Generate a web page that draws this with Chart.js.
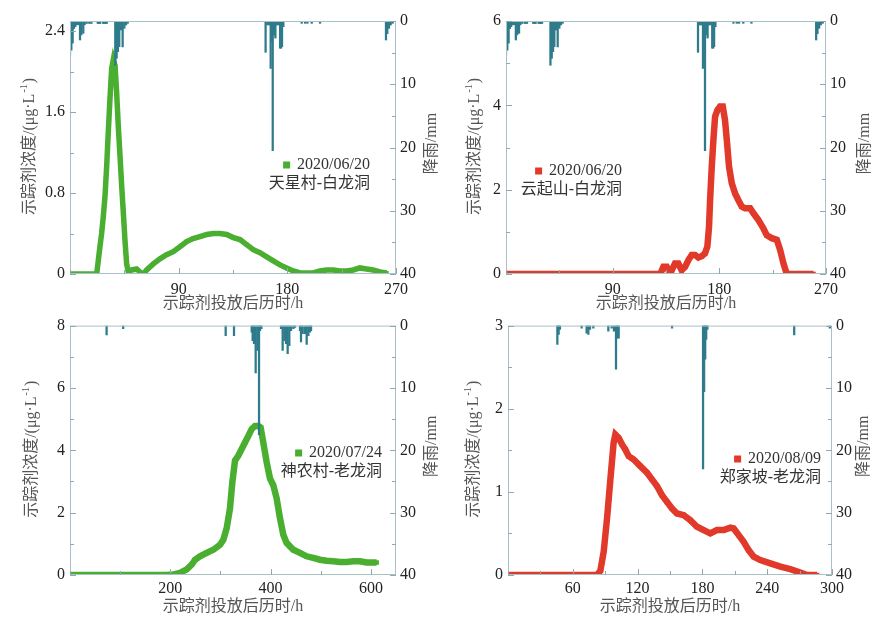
<!DOCTYPE html>
<html>
<head>
<meta charset="utf-8">
<script src="https://cdn.jsdelivr.net/npm/chart.js@4.4.1/dist/chart.umd.min.js"></script>
<style>
  body { margin: 0; background: #fff; }
  #wrap { position: relative; width: 894px; height: 622px; }
  canvas { position: absolute; }
</style>
</head>
<body>
<div id="wrap">
  <canvas id="c1" width="447" height="311" style="left:0;top:0"></canvas>
  <canvas id="c2" width="447" height="311" style="left:447px;top:0"></canvas>
  <canvas id="c3" width="447" height="311" style="left:0;top:311px"></canvas>
  <canvas id="c4" width="447" height="311" style="left:447px;top:311px"></canvas>
</div>
<script>
// 降雨 (mm), 2020/06/20 场次 (上面两幅共用)
const rainJuneT = [0, 1.1, 2.2, 3.3, 4.4, 5.8, 7.2, 8.3, 9.4, 11, 12.1, 13.8, 16, 17.7, 23, 24, 25, 27.5, 28.5, 29.5, 30.4,
  37.5, 38.6, 39.7, 40.8, 42.2, 43.6, 45, 46.4, 47.8,
  162, 163.5, 165, 166.2, 167.3, 167.9, 169, 170.1, 171.2, 172.6, 174, 174.8, 175.6, 176.7,
  191.9, 194.7, 196.6, 200.2, 207.1, 261.7, 262.8, 264.2, 265.6, 267.2];
const rainJuneMm = [5.4, 4.6, 3.5, 1.2, 0.9, 0.6, 0.6, 3.0, 2.2, 1.95, 0.6, 0.4, 0.4, 0.4, 0.4, 0.4, 0.4, 0.4, 0.4, 0.4, 0.4,
  7.0, 5.9, 4.85, 4.06, 1.42, 4.1, 1.16, 0.63, 0.37,
  4.95, 0.63, 0.63, 7.5, 3.3, 20.5, 2.2, 2.7, 0.63, 0.63, 4.3, 4.3, 4.06, 0.9,
  0.37, 0.37, 0.37, 0.37, 0.37, 3.0, 2.0, 1.16, 0.63, 0.37];

// 降雨 (mm), 2020/07/24 场次
const rainJulyT = [73, 106, 310.4, 327, 362.3, 364.2, 366.9, 370.2, 373.5, 376.9, 378.9, 381.6,
  420.7, 424, 427.4, 430.7, 434, 437.3, 440.7, 445.4, 448.7,
  458.6, 460.6, 464, 468.6, 471.9, 475.3, 478.6, 480.6];
const rainJulyMm = [1.5, 0.5, 1.6, 1.6, 1.06, 2.4, 2.9, 7.6, 4.0, 17.5, 0.8, 0.5,
  0.5, 4.0, 2.4, 2.9, 4.5, 3.2, 0.8, 0.5, 0.3,
  0.8, 2.6, 1.3, 1.3, 3.0, 1.6, 1.06, 0.8];

// 降雨 (mm), 2020/08/09 场次
const rainAugT = [45.7, 46.9, 48.1, 68.2, 72.8, 74.4, 75.9, 79, 92.9, 96, 98.1, 100, 101.2, 102.5,
  151.9, 180.6, 181.6, 182.6, 183.5, 184.6, 265, 298];
const rainAugMm = [3.0, 1.4, 0.6, 0.4, 1.2, 1.4, 0.6, 0.4, 0.9, 0.4, 0.9, 7.0, 2.0, 2.0,
  0.4, 23, 10.6, 5.4, 2.2, 0.6, 1.5, 0.4];

// 示踪剂浓度 (μg/L)
const tianxingT = [0, 22.1, 23.5, 24.8, 26.2, 27.6, 29.0, 30.4, 31.7, 33.1, 34.5, 35.9,
  37.3, 38.6, 40.0, 41.4, 42.8, 44.2, 45.5, 46.9, 48.3, 51.1, 55.2, 58, 60.7, 63.5, 69, 74.5, 80, 85.5,
  91.1, 96.6, 102, 107.6, 113.2, 118.7, 124.2, 129.7, 135.3, 140.8, 146.3, 151.8, 157.3, 162.9, 168.4,
  173.9, 179.4, 184.9, 190.5, 196, 201.5, 207, 212.6, 218, 223.6, 229, 234.6, 240, 245.6, 251, 256.7, 262.3];
const tianxingC = [0, 0, 0.14, 0.27, 0.40, 0.57, 0.77, 1.07, 1.40, 1.73, 2.03, 2.12,
  2.06, 1.80, 1.46, 1.17, 0.87, 0.60, 0.34, 0.10, 0.02, 0.04, 0.05, 0.02, 0, 0.04, 0.10, 0.15, 0.19, 0.22,
  0.27, 0.32, 0.35, 0.37, 0.39, 0.40, 0.40, 0.39, 0.36, 0.34, 0.29, 0.24, 0.21, 0.17, 0.13,
  0.09, 0.06, 0.03, 0.01, 0.01, 0.01, 0.03, 0.04, 0.04, 0.03, 0.03, 0.04, 0.06, 0.05, 0.04, 0.02, 0.01];

const yunqiT = [0, 130.1, 132.8, 135.6, 138.4, 142.6, 145.4, 148.2, 151.1, 153.9, 156.7, 159.5, 162.3, 165.1,
  167.9, 169.9, 171.3, 172.2, 173.6, 175.0, 176.4, 178.4, 180.6, 182.9, 184.8, 186.3, 188.2, 190.5,
  193.3, 196.1, 198.9, 201.7, 206.0, 208.8, 213.0, 217.2, 220.0, 224.3, 228.5, 231.3, 234.1, 236.9, 259.4];
const yunqiC = [0, 0, 0.17, 0.17, 0, 0.25, 0.25, 0.09, 0.17, 0.33, 0.45, 0.45, 0.39, 0.42,
  0.49, 0.65, 1.12, 1.75, 2.54, 3.18, 3.73, 3.89, 3.97, 3.97, 3.65, 3.18, 2.54, 2.15,
  1.91, 1.75, 1.60, 1.56, 1.56, 1.44, 1.28, 1.08, 0.92, 0.85, 0.81, 0.57, 0.25, 0, 0];

const shennongT = [0, 192.8, 206.1, 219.4, 232.7, 242.6, 249.3, 259.2, 272.5, 285.8, 299.1, 305.7, 312.4,
  319.0, 323.7, 329.0, 335.6, 342.3, 348.9, 355.5, 362.2, 368.8, 375.4, 380.1, 385.4, 392.0, 398.7,
  405.3, 412.0, 418.6, 425.3, 431.9, 445.2, 458.5, 471.8, 485.1, 498.4, 511.7, 525.0, 538.2, 551.5,
  564.8, 578.1, 591.4, 611.4];
const shennongC = [0, 0, 0.02, 0.07, 0.18, 0.33, 0.49, 0.60, 0.71, 0.81, 0.97, 1.13, 1.50,
  2.14, 2.98, 3.67, 3.83, 4.04, 4.25, 4.46, 4.68, 4.78, 4.78, 4.73, 4.25, 3.63, 3.10,
  2.88, 2.46, 1.83, 1.29, 1.03, 0.81, 0.71, 0.60, 0.55, 0.49, 0.46, 0.44, 0.42, 0.42,
  0.44, 0.44, 0.40, 0.40];

const zhengjiaT = [0, 82.4, 85.5, 88.6, 91.7, 94.8, 97.8, 99.4, 102.5, 105.6, 108.6, 111.7, 116.4, 122.5,
  128.7, 133.3, 137.9, 142.6, 147.2, 151.9, 156.5, 162.7, 168.8, 175.0, 181.2, 187.3, 193.5, 199.7,
  205.9, 209.0, 213.6, 218.2, 222.8, 227.5, 233.6, 242.9, 252.2, 261.4, 270.7, 276.9, 286.1];
const zhengjiaC = [0, 0, 0.05, 0.28, 0.68, 1.15, 1.59, 1.69, 1.65, 1.57, 1.51, 1.43, 1.39, 1.31,
  1.23, 1.15, 1.07, 0.96, 0.88, 0.80, 0.74, 0.72, 0.66, 0.58, 0.54, 0.50, 0.54, 0.54,
  0.57, 0.56, 0.48, 0.40, 0.30, 0.22, 0.18, 0.14, 0.10, 0.07, 0.03, 0, 0];

// 刻度
const xTicksJune = [90, 180, 270];
const xTicksJuly = [200, 400, 600];
const xTicksAug = [60, 120, 180, 240, 300];
const yTicksTianxing = [0, 0.8, 1.6, 2.4];
const yTicksYunqi = [0, 2, 4, 6];
const yTicksShennong = [0, 2, 4, 6, 8];
const yTicksZhengjia = [0, 1, 2, 3];
const rainTicks = [0, 10, 20, 30, 40];

const GREEN = '#4aae30';
const RED = '#e1392a';
const RAIN = '#2e7b8c';
const FRAME = '#a9c2c8';
const FONT = '"Liberation Serif", "Noto Sans CJK SC", serif';

// majors plus half-step minors, from 0 up to the top
function withMinors(majors, max) {
  const half = (majors[1] - majors[0]) / 2;
  const out = [];
  for (let k = 0; k * half <= max + 1e-9; k++) out.push(Math.round(k * half * 1000) / 1000);
  return out;
}
const isMajor = (majors, v) => majors.some(m => Math.abs(m - v) < 1e-6);

const decor = {
  id: 'decor',
  afterDraw(chart, args, o) {
    const ctx = chart.ctx;
    const a = chart.chartArea;
    ctx.save();
    // frame
    ctx.strokeStyle = FRAME;
    ctx.lineWidth = 1;
    ctx.strokeRect(a.left + 0.5, a.top + 0.5, a.right - a.left - 1, a.bottom - a.top - 1);
    // inward ticks
    ctx.strokeStyle = '#8fa9ae';
    ctx.beginPath();
    const sx = chart.scales.x, sy = chart.scales.y, sr = chart.scales.yR;
    sx.ticks.forEach(t => {
      const px = Math.round(sx.getPixelForValue(t.value)) + 0.5;
      const len = isMajor(o.xMajor, t.value) ? 6 : 4;
      ctx.moveTo(px, a.bottom); ctx.lineTo(px, a.bottom - len);
    });
    sy.ticks.forEach(t => {
      const py = Math.round(sy.getPixelForValue(t.value)) + 0.5;
      const len = isMajor(o.yMajor, t.value) ? 6 : 4;
      ctx.moveTo(a.left, py); ctx.lineTo(a.left + len, py);
    });
    sr.ticks.forEach(t => {
      const py = Math.round(sr.getPixelForValue(t.value)) + 0.5;
      const len = isMajor(rainTicks, t.value) ? 6 : 4;
      ctx.moveTo(a.right, py); ctx.lineTo(a.right - len, py);
    });
    ctx.stroke();

    // axis titles
    ctx.fillStyle = '#555';
    ctx.textBaseline = 'middle';
    ctx.textAlign = 'center';
    ctx.font = '16px ' + FONT;
    ctx.fillText('示踪剂投放后历时/h', (a.left + a.right) / 2, a.bottom + o.xTitleDy);

    ctx.save();
    ctx.translate(o.leftTitleX, (a.top + a.bottom) / 2);
    ctx.rotate(-Math.PI / 2);
    ctx.textAlign = 'left';
    const p1 = '示踪剂浓度/(μg·L', p2 = '-1', p3 = ')';
    ctx.font = '16px ' + FONT;
    const w1 = ctx.measureText(p1).width, w3 = ctx.measureText(p3).width;
    ctx.font = '10px ' + FONT;
    const w2 = ctx.measureText(p2).width;
    let x0 = -(w1 + w2 + w3) / 2;
    ctx.font = '16px ' + FONT;
    ctx.fillText(p1, x0, 0);
    ctx.font = '10px ' + FONT;
    ctx.fillText(p2, x0 + w1 + 1, -6);
    ctx.font = '16px ' + FONT;
    ctx.fillText(p3, x0 + w1 + w2 + 2, 0);
    ctx.restore();

    ctx.save();
    ctx.translate(a.right + o.rightTitleDx, (a.top + a.bottom) / 2 - 4);
    ctx.rotate(-Math.PI / 2);
    ctx.textAlign = 'center';
    ctx.font = '16px ' + FONT;
    ctx.fillText('降雨/mm', 0, 0);
    ctx.restore();

    // legend
    ctx.fillStyle = '#333';
    ctx.textAlign = 'right';
    ctx.font = '16px ' + FONT;
    ctx.fillText(o.date, o.legendRight, o.legendY);
    const wd = ctx.measureText(o.date).width;
    ctx.fillStyle = o.color;
    ctx.fillRect(o.legendRight - wd - 14, o.legendY - 3.5, 7, 7);
    ctx.fillStyle = '#333';
    ctx.fillText(o.site, o.legendRight, o.legendY + 19);
    ctx.restore();
  }
};

function makePanel(id, p) {
  const tickFont = { family: FONT, size: 16 };
  return new Chart(document.getElementById(id), {
    type: 'line',
    data: {
      datasets: [
        {
          type: 'bar',
          yAxisID: 'yR',
          data: p.rainT.map((t, i) => ({ x: t, y: p.rainMm[i] })),
          backgroundColor: RAIN,
          barThickness: 1.6,
          order: 0
        },
        {
          type: 'line',
          yAxisID: 'y',
          data: p.t.map((t, i) => ({ x: t, y: p.c[i] })),
          borderColor: p.color,
          backgroundColor: p.color,
          borderWidth: p.lw,
          pointStyle: 'rect',
          pointRadius: p.lw / 2,
          pointBorderWidth: 0,
          tension: 0,
          order: 1
        }
      ]
    },
    options: {
      responsive: false,
      animation: false,
      events: [],
      layout: { padding: { top: p.top, left: 0, right: 0, bottom: 0 } },
      plugins: {
        legend: { display: false },
        tooltip: { enabled: false },
        decor: {
          xMajor: p.xMajor, yMajor: p.yMajor, date: p.date, site: p.site, color: p.color,
          legendRight: p.legendRight, legendY: p.legendY,
          leftTitleX: p.leftTitleX, rightTitleDx: p.rightTitleDx, xTitleDy: p.xTitleDy
        }
      },
      scales: {
        x: {
          type: 'linear', min: 0, max: p.xMax, offset: false,
          grid: { display: false, drawTicks: false }, border: { display: false },
          afterBuildTicks: s => { s.ticks = withMinors(p.xMajor, p.xMax).map(v => ({ value: v })); },
          afterFit: s => { s.height = p.xAxisH; },
          ticks: {
            autoSkip: false, maxRotation: 0, padding: p.xPad, color: '#222', font: tickFont,
            callback: v => isMajor(p.xMajor, v) ? String(v) : ''
          }
        },
        y: {
          position: 'left', min: 0, max: p.yMax,
          grid: { display: false, drawTicks: false }, border: { display: false },
          afterBuildTicks: s => { s.ticks = withMinors(p.yMajor, p.yMax).map(v => ({ value: v })); },
          afterFit: s => { s.width = p.leftW; },
          ticks: {
            autoSkip: false, padding: 5, color: '#222', font: tickFont,
            callback: v => isMajor(p.yMajor, v) ? String(v) : ''
          }
        },
        yR: {
          position: 'right', min: 0, max: 40, reverse: true,
          grid: { display: false, drawTicks: false }, border: { display: false },
          afterBuildTicks: s => { s.ticks = withMinors(rainTicks, 40).map(v => ({ value: v })); },
          afterFit: s => { s.width = p.rightW; },
          ticks: {
            autoSkip: false, padding: 4, color: '#222', font: tickFont,
            callback: v => isMajor(rainTicks, v) ? String(v) : ''
          }
        }
      }
    },
    plugins: [decor]
  });
}

makePanel('c1', {
  t: tianxingT, c: tianxingC, rainT: rainJuneT, rainMm: rainJuneMm, color: GREEN, lw: 5.5,
  xMax: 270, xMajor: xTicksJune, yMax: 2.5, yMajor: yTicksTianxing,
  top: 21, leftW: 70, rightW: 51, xAxisH: 37, xPad: 6, xTitleDy: 30,
  leftTitleX: 30, rightTitleDx: 36,
  date: '2020/06/20', site: '天星村-白龙洞', legendRight: 370, legendY: 165
});
makePanel('c2', {
  t: yunqiT, c: yunqiC, rainT: rainJuneT, rainMm: rainJuneMm, color: RED, lw: 6.5,
  xMax: 270, xMajor: xTicksJune, yMax: 6, yMajor: yTicksYunqi,
  top: 21, leftW: 59, rightW: 68, xAxisH: 37, xPad: 6, xTitleDy: 30,
  leftTitleX: 28, rightTitleDx: 39,
  date: '2020/06/20', site: '云起山-白龙洞', legendRight: 175, legendY: 171
});
makePanel('c3', {
  t: shennongT, c: shennongC, rainT: rainJulyT, rainMm: rainJulyMm, color: GREEN, lw: 6.5,
  xMax: 650, xMajor: xTicksJuly, yMax: 8, yMajor: yTicksShennong,
  top: 12, leftW: 70, rightW: 51, xAxisH: 47, xPad: 4, xTitleDy: 32,
  leftTitleX: 32, rightTitleDx: 36,
  date: '2020/07/24', site: '神农村-老龙洞', legendRight: 382, legendY: 142
});
makePanel('c4', {
  t: zhengjiaT, c: zhengjiaC, rainT: rainAugT, rainMm: rainAugMm, color: RED, lw: 6.5,
  xMax: 300, xMajor: xTicksAug, yMax: 3, yMajor: yTicksZhengjia,
  top: 11, leftW: 61, rightW: 62, xAxisH: 47, xPad: 4, xTitleDy: 32,
  leftTitleX: 27, rightTitleDx: 32,
  date: '2020/08/09', site: '郑家坡-老龙洞', legendRight: 374, legendY: 148
});
</script>
</body>
</html>
